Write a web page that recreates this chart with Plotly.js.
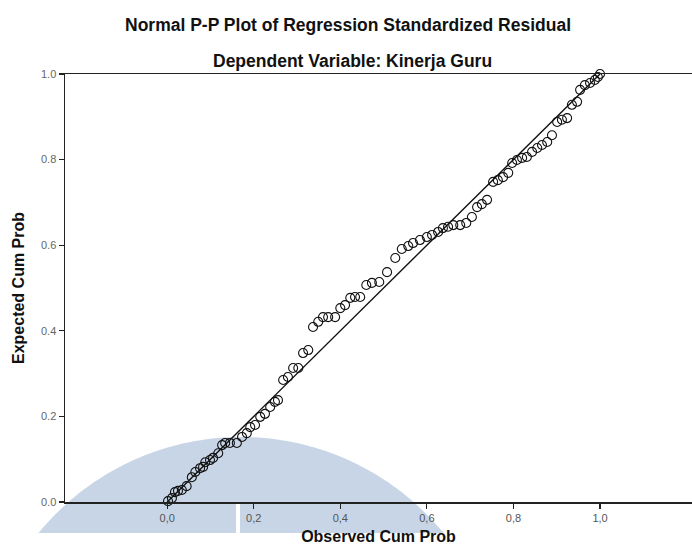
<!DOCTYPE html>
<html>
<head>
<meta charset="utf-8">
<script src="https://cdn.plot.ly/plotly-3.0.1.min.js"></script>
<style>html,body{margin:0;padding:0;background:#fff;}#chart{width:692px;height:551px;}</style>
</head>
<body>
<div id="chart"></div>
<script>
// Observed cumulative probability (x) and expected cumulative probability (y)
const observedCumProb = [0.002,0.011,0.018,0.025,0.034,0.045,0.057,0.065,0.076,0.083,0.088,0.099,0.106,0.118,0.127,0.134,0.145,0.161,0.173,0.184,0.192,0.203,0.215,0.226,0.238,0.249,0.256,0.268,0.279,0.291,0.303,0.314,0.326,0.337,0.349,0.360,0.372,0.388,0.400,0.411,0.423,0.434,0.446,0.460,0.473,0.490,0.508,0.527,0.542,0.557,0.568,0.584,0.600,0.612,0.626,0.637,0.649,0.661,0.677,0.691,0.704,0.716,0.727,0.739,0.753,0.764,0.776,0.788,0.797,0.808,0.820,0.831,0.843,0.855,0.866,0.878,0.889,0.901,0.912,0.924,0.935,0.947,0.954,0.965,0.977,0.988,0.995,1.000];
const expectedCumProb = [0.002,0.009,0.023,0.026,0.028,0.037,0.058,0.070,0.079,0.082,0.093,0.098,0.103,0.114,0.133,0.138,0.138,0.138,0.152,0.161,0.175,0.180,0.199,0.206,0.222,0.234,0.238,0.285,0.292,0.313,0.313,0.348,0.355,0.409,0.421,0.432,0.432,0.432,0.453,0.460,0.477,0.479,0.479,0.507,0.512,0.514,0.537,0.570,0.591,0.598,0.605,0.612,0.619,0.624,0.631,0.640,0.643,0.647,0.647,0.652,0.666,0.689,0.696,0.706,0.748,0.752,0.759,0.769,0.792,0.799,0.804,0.806,0.818,0.827,0.834,0.841,0.857,0.888,0.893,0.897,0.928,0.935,0.963,0.974,0.979,0.986,0.993,1.000];
const refLineX = [0, 1];
const refLineY = [0, 1];
const xTickVals = [0, 0.2, 0.4, 0.6, 0.8, 1.0];
const xTickText = ["0,0", "0,2", "0,4", "0,6", "0,8", "1,0"];
const yTickVals = [0, 0.2, 0.4, 0.6, 0.8, 1.0];
const yTickText = ["0.0", "0.2", "0.4", "0.6", "0.8", "1.0"];

// plot geometry (pixels) used for the decorative watermark
const W = 692, H = 551, L = 65, R = 0, T = 74, B = 49;
const pw = W - L - R, ph = H - T - B;
function px2paperX(px){ return (px - L) / pw; }
function py2paperY(py){ return (H - B - py) / ph; }
// watermark arc (circle in pixel space), cut at a bottom line
const wmCx = 241, wmCy = 698.5, wmR = 261.5, wmBottom = 533;
let pts = [];
const halfAng = Math.acos((wmCy - wmBottom) / wmR);
for (let i = 0; i <= 80; i++) {
  const a = -halfAng + (2 * halfAng) * i / 80;
  const x = wmCx + wmR * Math.sin(a);
  const y = wmCy - wmR * Math.cos(a);
  pts.push(px2paperX(x).toFixed(4) + "," + py2paperY(y).toFixed(4));
}
const wmPath = "M" + pts.join(" L") + " Z";

const fontFam = "Liberation Sans, Arial, sans-serif";

const data = [
  {
    x: refLineX, y: refLineY, type: "scatter", mode: "lines",
    line: {color: "#111", width: 1.4}, hoverinfo: "skip", showlegend: false
  },
  {
    x: observedCumProb, y: expectedCumProb, type: "scatter", mode: "markers",
    marker: {symbol: "circle-open", size: 9, color: "#111", line: {color: "#111", width: 1.1}},
    cliponaxis: false, showlegend: false
  }
];

const layout = {
  width: W, height: H,
  margin: {l: L, r: R, t: T, b: B, pad: 0},
  paper_bgcolor: "#ffffff",
  plot_bgcolor: "rgba(0,0,0,0)",
  showlegend: false,
  font: {family: fontFam, color: "#111"},
  xaxis: {
    range: [-0.236, 1.2125],
    tickvals: xTickVals, ticktext: xTickText,
    ticks: "outside", ticklen: 5, tickwidth: 1.2, tickcolor: "#222",
    tickfont: {size: 11, color: "#555", family: fontFam},
    showline: true, linecolor: "#222", linewidth: 1.5, mirror: true,
    showgrid: false, zeroline: false,
    title: {text: "Observed Cum Prob", font: {size: 16, color: "#111", family: fontFam, weight: "bold"}, standoff: 8}
  },
  yaxis: {
    range: [0, 1],
    tickvals: yTickVals, ticktext: yTickText,
    ticks: "outside", ticklen: 5, tickwidth: 1.2, tickcolor: "#222",
    tickfont: {size: 11, color: "#666", family: fontFam},
    showline: true, linecolor: "#222", linewidth: 1.5, mirror: false,
    showgrid: false, zeroline: false,
    title: {text: "Expected Cum Prob", font: {size: 16, color: "#111", family: fontFam, weight: "bold"}, standoff: 12}
  },
  shapes: [
    {type: "path", xref: "paper", yref: "paper", path: wmPath, fillcolor: "rgb(199,213,231)", line: {width: 0}, layer: "below"},
    {type: "rect", xref: "paper", yref: "paper", x0: px2paperX(236), x1: px2paperX(240), y0: py2paperY(wmBottom + 1), y1: py2paperY(503), fillcolor: "#ffffff", line: {width: 0}, layer: "below"}
  ],
  annotations: [
    {text: "Normal P-P Plot of Regression Standardized Residual", xref: "paper", yref: "paper", x: px2paperX(348), y: py2paperY(25), xanchor: "center", yanchor: "middle", showarrow: false, font: {size: 17.5, color: "#111", family: fontFam, weight: "bold"}},
    {text: "Dependent Variable: Kinerja Guru", xref: "paper", yref: "paper", x: px2paperX(352), y: py2paperY(61), xanchor: "center", yanchor: "middle", showarrow: false, font: {size: 17.5, color: "#111", family: fontFam, weight: "bold"}}
  ]
};

Plotly.newPlot("chart", data, layout, {displayModeBar: false, staticPlot: true});
</script>
</body>
</html>
